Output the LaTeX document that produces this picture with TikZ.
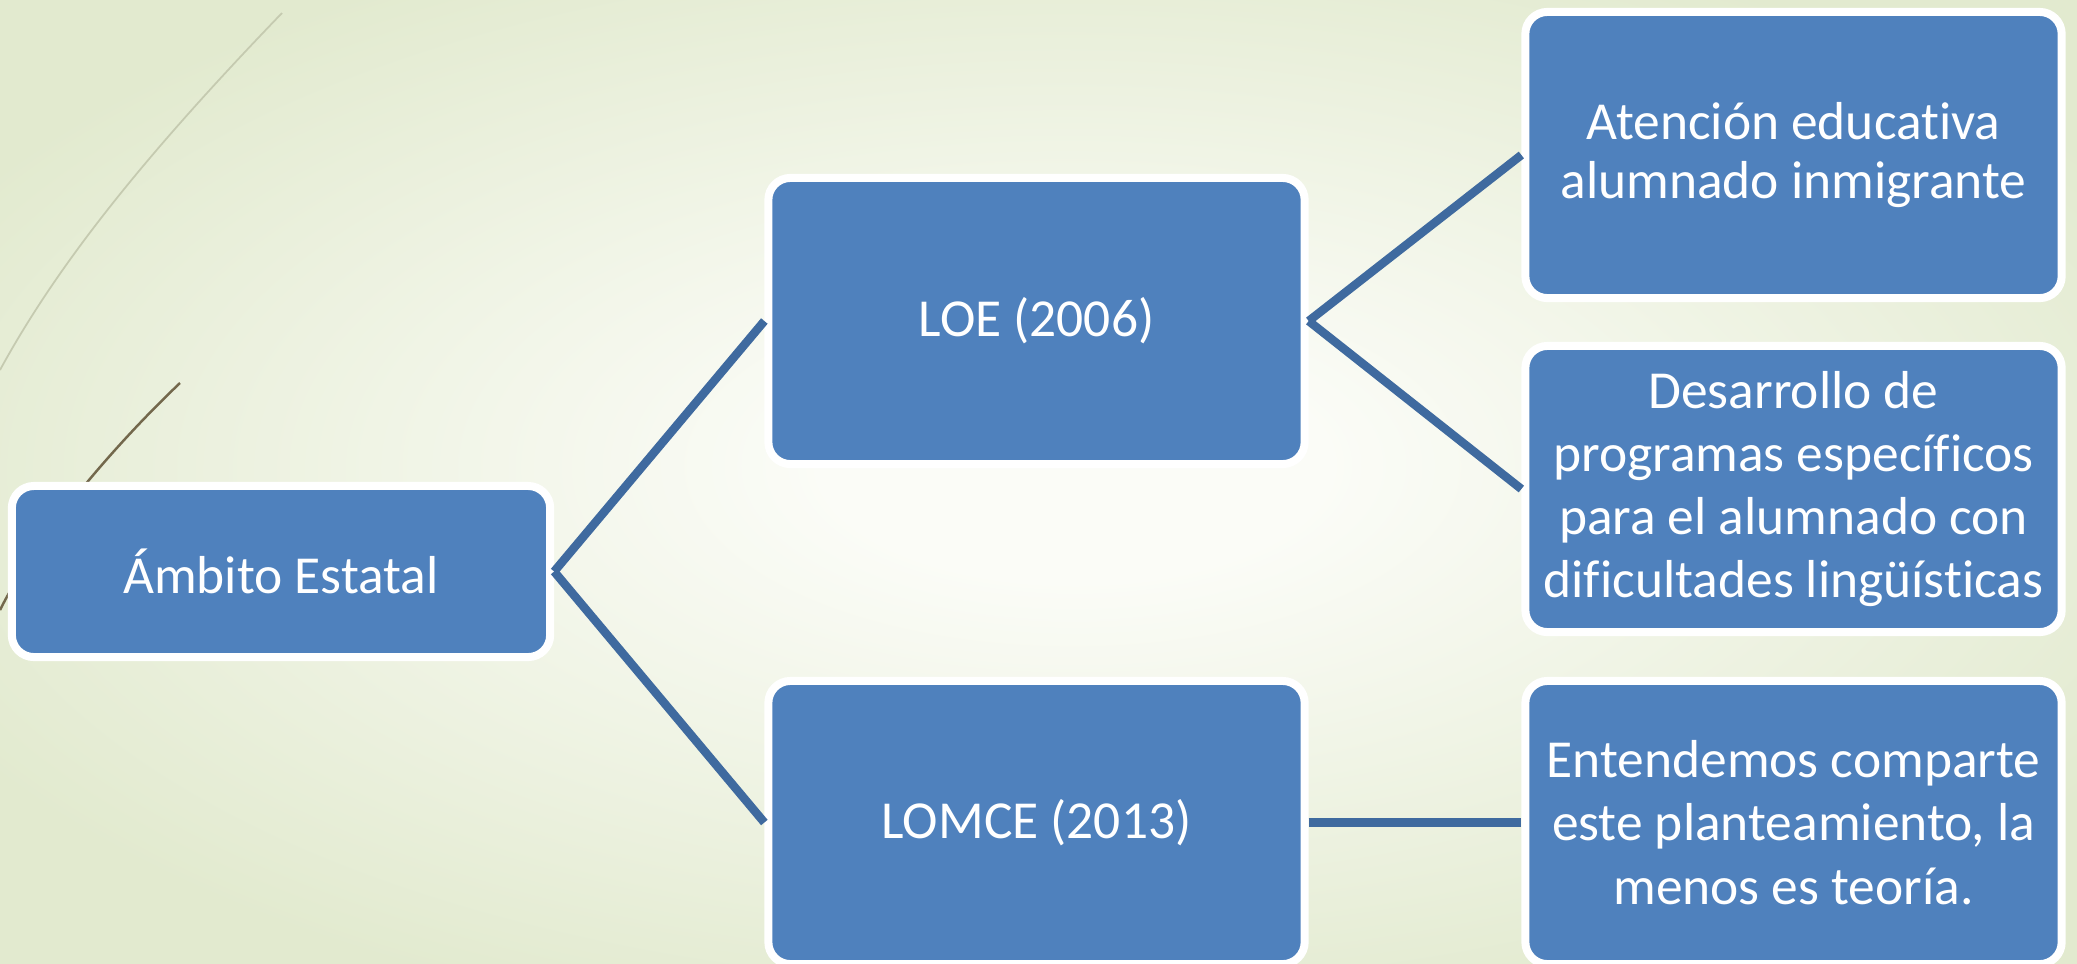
\documentclass[tikz,border=0pt]{standalone}
\usepackage{fontspec}
\setmainfont{Carlito}[Ligatures=NoCommon]
\usepackage{tikz}

\definecolor{boxblue}{HTML}{4F81BD}
\definecolor{linkblue}{HTML}{3F6A9F}
\definecolor{bglight}{HTML}{FBFCF7}
\definecolor{bggreen}{HTML}{E2EACF}
\definecolor{arcgrey}{HTML}{C5CAB0}
\definecolor{arcbrown}{HTML}{73684C}
\pgfdeclareradialshading{glow}{\pgfpoint{1bp}{1bp}}{color(0bp)=(bglight); color(6bp)=(bglight); color(30bp)=(bggreen); color(50bp)=(bggreen)}

\begin{document}
\begin{tikzpicture}[x=.01cm, y=-.01cm,
  every node/.style={rectangle, rounded corners=.22cm, draw=white, line width=.08cm, fill=boxblue, text=white, align=center, minimum width=5.36cm, minimum height=2.86cm, font=\fontsize{15.2}{18}\selectfont},
  linkline/.style={draw=linkblue, line width=.085cm}]
  \useasboundingbox (0,0) rectangle (2077,963);
  \shade[shading=glow] (0,0) rectangle (2077,963);
  \draw[arcgrey, line width=.5pt] (282,13) .. controls (150,150) and (60,260) .. (0,370);
  \draw[arcbrown, line width=.7pt] (180,383) .. controls (120,440) and (40,530) .. (0,610);
  \node (amb) [minimum width=5.38cm, minimum height=1.71cm] at (281,571.5) {Ámbito Estatal};
  \node (loe) at (1036.5,321) {LOE (2006)};
  \node (lomce) [minimum height=2.83cm] at (1036.5,822.5) {LOMCE (2013)};
  \node (aten) [font=\fontsize{15.2}{16.8}\selectfont] at (1793.5,155) {Atención educativa\\alumnado inmigrante};
  \node (desa) at (1793.5,489) {Desarrollo de\\programas específicos\\para el alumnado con\\dificultades lingüísticas};
  \node (ente) [minimum height=2.83cm] at (1793.5,822.5) {Entendemos comparte\\este planteamiento, la\\menos es teoría.};
  \draw[linkline] (amb.east) -- (loe.west);
  \draw[linkline] (amb.east) -- (lomce.west);
  \draw[linkline] (loe.east) -- (aten.west);
  \draw[linkline] (loe.east) -- (desa.west);
  \draw[linkline] (lomce.east) -- (ente.west);
\end{tikzpicture}
\end{document}
